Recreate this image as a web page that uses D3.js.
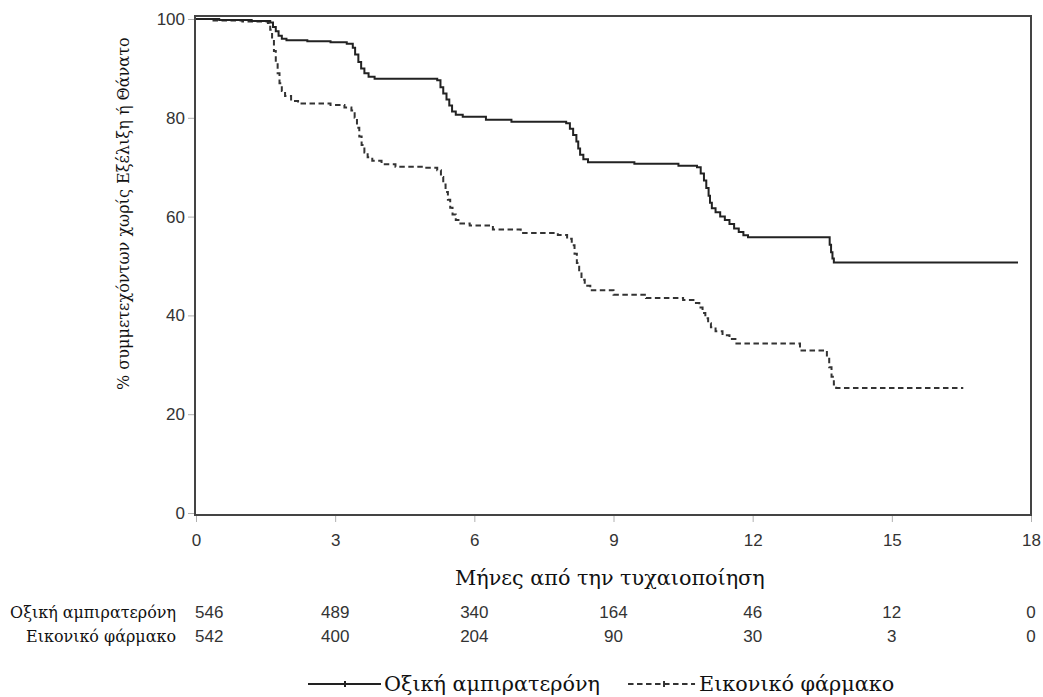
<!DOCTYPE html>
<html>
<head>
<meta charset="utf-8">
<script src="https://cdn.jsdelivr.net/npm/d3@7"></script>
<style>
  html, body { margin: 0; padding: 0; background: #fff; }
  svg { display: block; }
  .serif { font-family: "DejaVu Serif", "Liberation Serif", "Times New Roman", serif; }
  .sans { font-family: "Liberation Sans", Arial, Helvetica, sans-serif; }
</style>
</head>
<body>
<svg id="chart" width="1043" height="697"></svg>
<script>
// ---------- data ----------
const monthTicks = [0, 3, 6, 9, 12, 15, 18];
const pctTicks = [0, 20, 40, 60, 80, 100];
const groupNames = ["Οξική αμπιρατερόνη", "Εικονικό φάρμακο"];
const atRiskAbiraterone = [546, 489, 340, 164, 46, 12, 0];
const atRiskPlacebo = [542, 400, 204, 90, 30, 3, 0];
const xTitle = "Μήνες από την τυχαιοποίηση";
const yTitle = "% συμμετεχόντων χωρίς Εξέλιξη ή Θάνατο";

// Kaplan-Meier step points (months, % event-free)
const abiTime = [0, 0.5, 1.2, 1.6, 1.66, 1.72, 1.78, 1.85, 1.95, 2.4, 2.9, 3.25, 3.38, 3.43, 3.5, 3.56, 3.63, 3.72, 3.85,
  5.2, 5.27, 5.33, 5.4, 5.46, 5.52, 5.6, 5.75, 6.25, 6.8, 7.98, 8.06, 8.13, 8.2, 8.24, 8.28, 8.35, 8.45,
  9.45, 10.4, 10.8, 10.88, 10.95, 11.0, 11.05, 11.08, 11.12, 11.2, 11.3, 11.4, 11.5, 11.6, 11.7, 11.8, 11.9,
  13.66, 13.69, 13.72, 13.75, 17.72];
const abiSurv = [100, 99.8, 99.6, 99.3, 98.4, 97.5, 96.6, 96.0, 95.7, 95.5, 95.3, 95.0, 94.2, 92.8, 91.3, 90.0, 89.0, 88.3, 87.9,
  87.6, 86.2, 84.9, 83.7, 82.5, 81.3, 80.6, 80.2, 79.6, 79.2, 78.9, 77.8, 76.5, 75.2, 73.8, 72.5, 71.6, 71.0,
  70.7, 70.3, 70.0, 68.7, 67.3, 65.8, 64.2, 62.8, 61.7, 60.9, 60.0, 59.3, 58.5, 57.6, 56.9, 56.2, 55.8,
  54.3, 52.8, 51.5, 50.7, 50.7];

const plaTime = [0, 0.3, 1.0, 1.55, 1.6, 1.64, 1.68, 1.72, 1.76, 1.8, 1.85, 1.92, 2.05, 2.2, 2.9, 3.2, 3.35, 3.42, 3.47, 3.52,
  3.57, 3.63, 3.7, 3.8, 4.0, 4.3, 4.9, 5.2, 5.28, 5.33, 5.38, 5.43, 5.48, 5.53, 5.6, 5.7, 5.9, 6.4, 7.0, 7.8,
  8.0, 8.1, 8.16, 8.21, 8.26, 8.31, 8.38, 8.5, 9.0, 9.7, 10.5, 10.75, 10.85, 10.92, 10.98, 11.04, 11.1, 11.2,
  11.35, 11.5, 11.65, 13.02, 13.6, 13.65, 13.7, 13.75, 13.8, 16.54];
const plaSurv = [100, 99.7, 99.5, 99.2, 97.8, 95.8, 93.5, 91.2, 89.0, 87.0, 85.4, 84.4, 83.4, 82.9, 82.6, 82.1, 81.5, 80.0, 78.0, 76.2,
  74.5, 73.0, 72.0, 71.3, 70.6, 70.1, 69.9, 69.4, 68.0, 66.5, 65.0, 63.4, 61.8, 60.4, 59.3, 58.6, 58.2, 57.4, 56.7, 56.3,
  55.5, 54.2, 52.5, 50.6, 48.8, 47.2, 46.0, 45.1, 44.2, 43.5, 43.1, 42.5, 41.6, 40.5, 39.4, 38.4, 37.6, 36.8,
  36.0, 35.2, 34.3, 32.9, 31.5, 29.5, 27.6, 26.0, 25.3, 25.3];

// ---------- layout ----------
const svg = d3.select("#chart");
const x = d3.scaleLinear().domain([0, 18]).range([196, 1031]);
const y = d3.scaleLinear().domain([0, 100]).range([513, 19]);
const frame = { left: 195, top: 16, right: 1031, bottom: 515 };

function fitFont(sel, target, base) {
  sel.style("font-size", base + "px");
  const w = sel.node().getComputedTextLength();
  const fs = base * target / w;
  sel.style("font-size", fs + "px");
  return fs;
}

// axes (ticks + labels)
const xAxis = svg.append("g")
  .attr("transform", `translate(0,${frame.bottom})`)
  .call(d3.axisBottom(x).tickValues(monthTicks).tickSize(7).tickPadding(12));
xAxis.attr("font-family", null).attr("font-size", null);
xAxis.select(".domain").remove();
xAxis.selectAll(".tick line").attr("stroke", "#b0b0b0").attr("stroke-width", 1);
xAxis.selectAll(".tick text").attr("fill", "#333").attr("class", "sans").style("font-size", "17px");

const yAxis = svg.append("g")
  .attr("transform", `translate(${frame.left},0)`)
  .call(d3.axisLeft(y).tickValues(pctTicks).tickSize(7).tickPadding(3));
yAxis.attr("font-family", null).attr("font-size", null);
yAxis.select(".domain").remove();
yAxis.selectAll(".tick line").attr("stroke", "#b0b0b0").attr("stroke-width", 1);
yAxis.selectAll(".tick text").attr("fill", "#333").attr("class", "sans").style("font-size", "17px");

// frame
svg.append("rect")
  .attr("x", frame.left).attr("y", frame.top)
  .attr("width", frame.right - frame.left).attr("height", frame.bottom - frame.top)
  .attr("fill", "none").attr("stroke", "#444").attr("stroke-width", 2);

// curves
const line = d3.line().x(d => x(d[0])).y(d => y(d[1])).curve(d3.curveStepAfter);
const abiData = abiTime.map((t, i) => [t, abiSurv[i]]);
const plaData = plaTime.map((t, i) => [t, plaSurv[i]]);

svg.append("path").datum(plaData)
  .attr("d", line).attr("fill", "none")
  .attr("stroke", "#333").attr("stroke-width", 2).attr("stroke-dasharray", "5.5,3.5");
svg.append("path").datum(abiData)
  .attr("d", line).attr("fill", "none")
  .attr("stroke", "#222").attr("stroke-width", 2);

// axis titles
const xt = svg.append("text").text(xTitle).attr("class", "serif")
  .attr("x", 455).attr("y", 585).attr("fill", "#111");
const titleFs = fitFont(xt, 310, 22);

const yt = svg.append("text").text(yTitle).attr("class", "serif")
  .attr("transform", "translate(129,390) rotate(-90)").attr("fill", "#111");
fitFont(yt, 353, 20);

// at-risk table
const riskRows = [atRiskAbiraterone, atRiskPlacebo];
const rowY = [618, 642];
let lblFs = 14;
riskRows.forEach((row, r) => {
  const lbl = svg.append("text").text(groupNames[r]).attr("class", "serif")
    .attr("x", 176).attr("y", rowY[r]).attr("text-anchor", "end").attr("fill", "#111");
  if (r === 0) lblFs = fitFont(lbl, 166, 14);
  else lbl.style("font-size", lblFs + "px");
  svg.append("g").selectAll("text").data(row).join("text")
    .attr("class", "sans")
    .attr("x", (d, i) => i === 0 ? x(monthTicks[i]) - 1 : x(monthTicks[i]))
    .attr("y", rowY[r])
    .attr("text-anchor", (d, i) => i === 0 ? "start" : "middle")
    .style("font-size", "17px").attr("fill", "#333")
    .text(d => d);
});

// legend
const legY = 684;
const lg = svg.append("g");
lg.append("line").attr("x1", 308).attr("x2", 381).attr("y1", legY).attr("y2", legY)
  .attr("stroke", "#222").attr("stroke-width", 2);
lg.append("line").attr("x1", 345).attr("x2", 345).attr("y1", legY - 3).attr("y2", legY + 3)
  .attr("stroke", "#222").attr("stroke-width", 2);
const lt1 = lg.append("text").text(groupNames[0]).attr("class", "serif")
  .attr("x", 384).attr("y", legY + 7)
  .style("font-size", titleFs + "px").attr("fill", "#111");
const w1 = lt1.node().getComputedTextLength();
const d0 = 384 + w1 + 28;
lg.append("line").attr("x1", d0).attr("x2", d0 + 67).attr("y1", legY).attr("y2", legY)
  .attr("stroke", "#333").attr("stroke-width", 2).attr("stroke-dasharray", "5.5,3.5");
lg.append("line").attr("x1", d0 + 36).attr("x2", d0 + 36).attr("y1", legY - 3).attr("y2", legY + 3)
  .attr("stroke", "#333").attr("stroke-width", 2);
lg.append("text").text(groupNames[1]).attr("class", "serif")
  .attr("x", d0 + 71).attr("y", legY + 7)
  .style("font-size", titleFs + "px").attr("fill", "#111");
</script>
</body>
</html>
